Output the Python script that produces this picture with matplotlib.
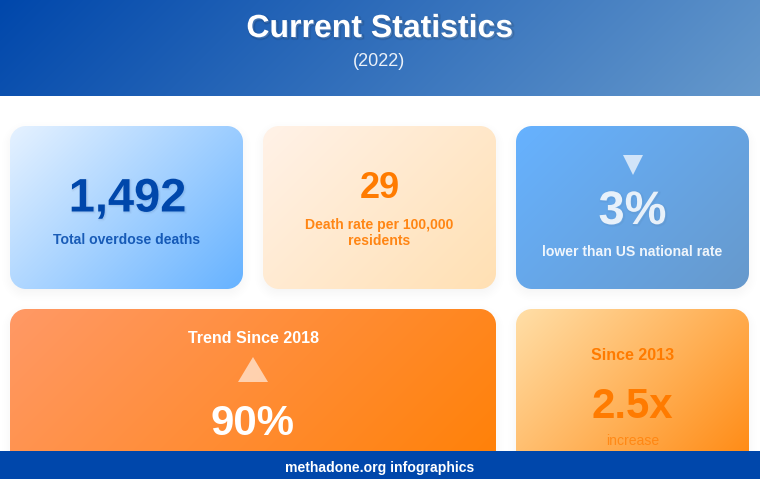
import numpy as np
import matplotlib
matplotlib.use("Agg")
import matplotlib.pyplot as plt
import matplotlib.patheffects as pe
from matplotlib.colors import to_rgb
from matplotlib.patches import Polygon

plt.rcParams['font.family'] = ['Liberation Sans', 'DejaVu Sans']

W, H = 760, 479

# textos de la infografia
title = "Current Statistics"
subtitle = "(2022)"
footer = "methadone.org infographics"
card1_value, card1_label = "1,492", "Total overdose deaths"
card2_value = "29"
card2_label = ["Death rate per 100,000", "residents"]
card3_value, card3_label = "3%", "lower than US national rate"
card4_title, card4_value = "Trend Since 2018", "90%"
card5_title, card5_value, card5_label = "Since 2013", "2.5x", "increase"

# tarjetas: x0, y0, x1, y1, color inicial, color final
cards = [
    (10, 126, 243, 289, "#e6f2ff", "#66b2ff"),
    (263, 126, 496, 289, "#fff2e8", "#ffe0b3"),
    (516, 126, 749, 289, "#66b2ff", "#6699cc"),
    (10, 309, 496, 510, "#ff9966", "#ff7f00"),
    (516, 309, 749, 510, "#ffdfa8", "#ff7f00"),
]
radius = 16


def gradient(x0, y0, x1, y1, c0, c1):
    # degradado CSS a 135 grados
    xs, ys = np.meshgrid(np.arange(x0, x1) + 0.5, np.arange(y0, y1) + 0.5)
    t = 0.5 + ((xs - (x0 + x1) / 2) + (ys - (y0 + y1) / 2)) / ((x1 - x0) + (y1 - y0))
    t = np.clip(t, 0, 1)[..., None]
    return np.array(to_rgb(c0)) * (1 - t) + np.array(to_rgb(c1)) * t


def rounded_sdf(xs, ys, x0, y0, x1, y1, r):
    qx = np.abs(xs - (x0 + x1) / 2) - (x1 - x0) / 2 + r
    qy = np.abs(ys - (y0 + y1) / 2) - (y1 - y0) / 2 + r
    return np.hypot(np.maximum(qx, 0), np.maximum(qy, 0)) + np.minimum(np.maximum(qx, qy), 0) - r


def draw_card(ax, x0, y0, x1, y1, c0, c1):
    # sombra suave
    pad = 22
    xs, ys = np.meshgrid(np.arange(x0 - pad, x1 + pad) + 0.5, np.arange(y0 - pad, y1 + pad) + 0.5)
    d = rounded_sdf(xs, ys - 4, x0, y0, x1, y1, radius)
    s = np.clip(1 - (d + 12) / 24, 0, 1)
    shadow = np.zeros(xs.shape + (4,))
    shadow[..., 3] = 0.05 * s * s * (3 - 2 * s)
    ax.imshow(shadow, extent=(x0 - pad, x1 + pad, y1 + pad, y0 - pad), interpolation="none", zorder=1)

    # cuerpo con esquinas redondeadas
    xs, ys = np.meshgrid(np.arange(x0, x1) + 0.5, np.arange(y0, y1) + 0.5)
    alpha = np.clip(0.5 - rounded_sdf(xs, ys, x0, y0, x1, y1, radius), 0, 1)
    img = np.dstack([gradient(x0, y0, x1, y1, c0, c1), alpha])
    ax.imshow(img, extent=(x0, x1, y1, y0), interpolation="none", zorder=2)


def soft_shadow(dx, dy, alpha):
    # sombra de texto borrosa, dibujada debajo del texto
    fx = [pe.Stroke(linewidth=lw, foreground="black", alpha=alpha, offset=(dx, -dy)) for lw in (2.4, 1.2, 0.4)]
    return fx + [pe.Normal()]


def px_text(ax, x, baseline, s, size, color, weight="bold", alpha=None, effects=None, zorder=5):
    t = ax.text(x, baseline, s, fontsize=size * 0.72, color=color, weight=weight, alpha=alpha,
                ha="center", va="baseline", zorder=zorder)
    if effects:
        t.set_path_effects(effects)
    return t


fig = plt.figure(figsize=(W / 100, H / 100), dpi=100, facecolor="white")
ax = fig.add_axes([0, 0, 1, 1])

# cabecera
ax.imshow(gradient(0, 0, W, 96, "#0047ab", "#6699cc"), extent=(0, W, 96, 0), interpolation="none", zorder=1)

for x0, y0, x1, y1, c0, c1 in cards:
    draw_card(ax, x0, y0, x1, y1, c0, c1)

# pie
ax.imshow(np.array(to_rgb("#0047ab"))[None, None, :], extent=(0, W, H, 451), interpolation="none", zorder=8)

ax.set_xlim(0, W)
ax.set_ylim(H, 0)
ax.set_aspect("auto")
ax.axis("off")

blue = "#0047ab"
orange = "#ff7b00"

px_text(ax, 379.5, 37, title, 32, "white", effects=soft_shadow(1.0, 1.0, 0.06))
px_text(ax, 379.5, 66, subtitle, 18, "white", weight="normal", alpha=0.9)

px_text(ax, 127.5, 211.5, card1_value, 47, blue, effects=soft_shadow(0.7, 0.7, 0.015))
px_text(ax, 127, 244, card1_label, 14, blue, alpha=0.85)

px_text(ax, 379.5, 198.5, card2_value, 36, orange)
for i, line in enumerate(card2_label):
    px_text(ax, 379.5, 229 + 16 * i, line, 14, orange, alpha=0.9)

ax.add_patch(Polygon([(623, 155), (643, 155), (633, 175)], closed=True, fc="white", alpha=0.7, ec="none", zorder=5))
px_text(ax, 632.5, 224, card3_value, 47, "white", alpha=0.85, effects=soft_shadow(0.7, 0.7, 0.015))
px_text(ax, 632.5, 256, card3_label, 14, "white", alpha=0.9)

px_text(ax, 253, 343, card4_title, 16, "white")
ax.add_patch(Polygon([(238, 382), (268, 382), (253, 357)], closed=True, fc="white", alpha=0.6, ec="none", zorder=5))
px_text(ax, 252, 435, card4_value, 42, "white")

px_text(ax, 633, 360, card5_title, 16, orange)
px_text(ax, 632.5, 417.5, card5_value, 42, orange)
px_text(ax, 632.5, 445, card5_label, 14, orange, weight="normal", alpha=0.7)

px_text(ax, 379.5, 472, footer, 14, "white", zorder=9)

fig.savefig("out.png", dpi=100)
